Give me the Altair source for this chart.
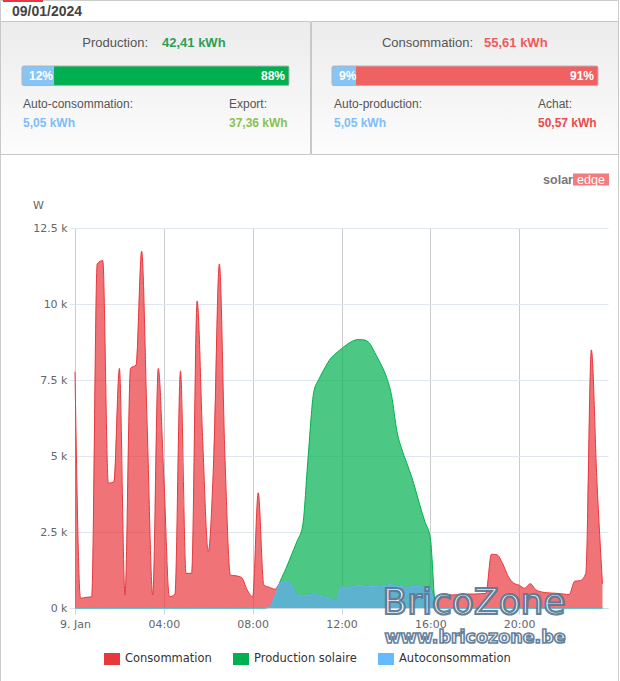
import altair as alt
import pandas as pd

# ---------------- data ----------------
day_label = "09/01/2024"
date_axis_label = "9. Jan"

production_kwh = 42.41
consumption_kwh = 55.61
self_consumption_kwh = 5.05
export_kwh = 37.36
self_production_kwh = 5.05
purchase_kwh = 50.57

production_split_pct = [12, 88]   # auto-consommation / export
consumption_split_pct = [9, 91]   # auto-production / achat

series_names = ["Consommation", "Production solaire", "Autoconsommation"]
series_colors = ["#e8383d", "#00b050", "#66bbff"]

# one value every 15 minutes, 00:00 .. 23:45 (hours)
quarter_hours = [q / 4 for q in range(96)]

consumption_w = [
    7770, 320, 350, 370,
    11320, 11430, 4110, 4140,
    7880, 430, 7890, 7990,
    11740, 6000, 430, 7880,
    4300, 370, 460, 7800,
    1140, 1140, 10100, 5500,
    1860, 5000, 11320, 5000,
    1080, 1060, 1000, 600,
    370, 3790, 760, 680,
    620, 830, 870, 750,
    440, 400, 410, 480,
    390, 360, 320, 250,
    700, 680, 700, 740,
    730, 710, 700, 720,
    750, 770, 720, 700,
    680, 720, 700, 680,
    650, 250, 400, 430,
    430, 440, 450, 460,
    460, 470, 480, 1770,
    1750, 1470, 1050, 820,
    750, 650, 800, 600,
    530, 500, 490, 480,
    460, 440, 880, 900,
    1140, 8490, 4200, 800,
]

production_w = [
    0, 0, 0, 0,
    0, 0, 0, 0,
    0, 0, 0, 0,
    0, 0, 0, 0,
    0, 0, 0, 0,
    0, 0, 0, 0,
    0, 0, 0, 0,
    0, 0, 0, 0,
    0, 0, 0, 30,
    400, 900, 1300, 1750,
    2200, 2700, 5000, 7100,
    7550, 7900, 8200, 8380,
    8530, 8670, 8780, 8830,
    8820, 8720, 8400, 8050,
    7650, 7000, 5800, 5150,
    4650, 4100, 3450, 2850,
    2300, 0, 0, 0,
    0, 0, 0, 0,
    0, 0, 0, 0,
    0, 0, 0, 0,
    0, 0, 0, 0,
    0, 0, 0, 0,
    0, 0, 0, 0,
    0, 0, 0, 0,
]

self_consumption_w = [
    0, 0, 0, 0,
    0, 0, 0, 0,
    0, 0, 0, 0,
    0, 0, 0, 0,
    0, 0, 0, 0,
    0, 0, 0, 0,
    0, 0, 0, 0,
    0, 0, 0, 0,
    0, 0, 0, 30,
    400, 830, 870, 750,
    440, 400, 410, 480,
    390, 360, 320, 250,
    700, 680, 700, 740,
    730, 710, 700, 720,
    750, 770, 720, 700,
    680, 720, 700, 680,
    650, 0, 0, 0,
    0, 0, 0, 0,
    0, 0, 0, 0,
    0, 0, 0, 0,
    0, 0, 0, 0,
    0, 0, 0, 0,
    0, 0, 0, 0,
    0, 0, 0, 0,
]

x_tick_hours = [0, 4, 8, 12, 16, 20]
y_ticks_w = [0, 2500, 5000, 7500, 10000, 12500]

# ---------------- layout helpers ----------------
X0, Y0 = 75, 228          # plot-area origin in page pixels
PW, PH = 533, 380         # plot-area size
one = pd.DataFrame({"k": [0]})


def kwh(v):
    return f"{v:.2f}".replace(".", ",") + " kWh"


def T(s, x, y, size=12, color="#555555", weight="normal", align="left",
      font="Liberation Sans", baseline="middle", **kw):
    return alt.Chart(one).mark_text(
        text=s, fontSize=size, color=color, fontWeight=weight, align=align,
        baseline=baseline, font=font, **kw
    ).encode(x=alt.value(x - X0), y=alt.value(y - Y0))


def R(x1, y1, x2, y2, **kw):
    return alt.Chart(one).mark_rect(**kw).encode(
        x=alt.value(x1 - X0), x2=alt.value(x2 - X0),
        y=alt.value(y1 - Y0), y2=alt.value(y2 - Y0))


# ---------------- decorations (header) ----------------
grad = alt.LinearGradient(
    gradient="linear", x1=0, x2=0, y1=0, y2=1,
    stops=[alt.GradientStop(color="#ececec", offset=0),
           alt.GradientStop(color="#fcfcfc", offset=1)])

decor = [
    R(0.5, 0.5, 618.5, 700, fillOpacity=0, stroke="#cccccc", strokeWidth=1),
    R(0.5, 21.5, 310.5, 154.5, fill=grad, stroke="#c8c8c8", strokeWidth=1),
    R(311.5, 21.5, 618.5, 154.5, fill=grad, stroke="#c8c8c8", strokeWidth=1),
    R(3, 0, 43, 2, fill="#e8383d"),
    T(day_label, 12, 11.5, size=14, color="#444444", weight="bold"),
    T("Production:", 148, 42.5, size=13, align="right"),
    T(kwh(production_kwh), 162, 42.5, size=13, color="#2f9e55", weight="bold"),
    T("Consommation:", 473, 42.5, size=13, align="right"),
    T(kwh(consumption_kwh), 484, 42.5, size=13, color="#f05a5a", weight="bold"),
    T("Auto-consommation:", 23, 104),
    T(kwh(self_consumption_kwh), 23, 122.5, color="#80bdf6", weight="bold"),
    T("Export:", 229, 104),
    T(kwh(export_kwh), 229, 122.5, color="#8cc152", weight="bold"),
    T("Auto-production:", 334, 104),
    T(kwh(self_production_kwh), 334, 122.5, color="#80bdf6", weight="bold"),
    T("Achat:", 538, 104),
    T(kwh(purchase_kwh), 538, 122.5, color="#e84c4c", weight="bold"),
    # solaredge logo
    R(573, 173.5, 609, 185.5, fill="#f37b7b"),
    T("solar", 573, 179.5, size=12.5, color="#777777", weight="bold", align="right"),
    T("edge", 591, 179.5, size=12.5, color="#ffffff", align="center"),
]


def progress(split, x_left, x_right, main_color):
    ends = [split[0], split[0] + split[1]]
    starts = [0, split[0]]
    d = pd.DataFrame({"part": ["self", "main"], "pct": split,
                      "start": starts, "end": ends,
                      "label": [f"{p}%" for p in split]})
    sc = alt.Scale(domain=[0, 100], range=[x_left - X0, x_right - X0])
    yv, y2v = alt.value(66 - Y0), alt.value(85.5 - Y0)
    segs = alt.Chart(d).mark_rect().encode(
        x=alt.X("start:Q", scale=sc, axis=None), x2="end:Q", y=yv, y2=y2v,
        color=alt.condition(alt.datum.part == "self", alt.value("#86c5f5"),
                            alt.value(main_color)))
    lab_self = alt.Chart(d).transform_filter(alt.datum.part == "self").mark_text(
        align="left", dx=7, baseline="middle", font="Liberation Sans",
        fontSize=12, fontWeight="bold", color="white").encode(
        x=alt.X("start:Q", axis=None), y=alt.value(76 - Y0), text="label:N")
    lab_main = alt.Chart(d).transform_filter(alt.datum.part == "main").mark_text(
        align="right", dx=-4, baseline="middle", font="Liberation Sans",
        fontSize=12, fontWeight="bold", color="white").encode(
        x=alt.X("end:Q", axis=None), y=alt.value(76 - Y0), text="label:N")
    frame = alt.Chart(d).transform_aggregate(s="min(start)", e="max(end)").mark_rect(
        fillOpacity=0, stroke="#b4b4b4", strokeWidth=1, cornerRadius=2).encode(
        x=alt.X("s:Q", axis=None), x2="e:Q", y=yv, y2=y2v)
    return alt.layer(segs, lab_self, lab_main, frame)


bar_left = progress(production_split_pct, 22, 289, "#00b050")
bar_right = progress(consumption_split_pct, 332, 598, "#f06161")

# ---------------- main chart ----------------
df = pd.DataFrame({
    "h": quarter_hours * 3,
    "W": consumption_w + production_w + self_consumption_w,
    "series": ([series_names[0]] * 96 + [series_names[1]] * 96
               + [series_names[2]] * 96),
})

x_enc = alt.X(
    "h:Q", scale=alt.Scale(domain=[0, 24], nice=False, zero=False),
    axis=alt.Axis(
        orient="bottom", values=x_tick_hours, title=None,
        labelExpr=("datum.value == 0 ? '" + date_axis_label + "' : "
                   "(datum.value < 10 ? '0' : '') + datum.value + ':00'"),
        grid=True, gridColor="#cccccc", domainColor="#ccd6eb",
        tickColor="#ccd6eb", tickSize=6, labelPadding=4,
        labelFont="DejaVu Sans", labelFontSize=11, labelColor="#666666",
        labelFlush=False))

y_enc = alt.Y(
    "W:Q", stack=None, scale=alt.Scale(domain=[0, 12500], nice=False),
    axis=alt.Axis(
        orient="left", values=y_ticks_w,
        labelExpr="(datum.value / 1000) + ' k'",
        title="W", titleAngle=0, titleX=-37, titleY=-23, titleAlign="center",
        titleBaseline="middle", titleFont="DejaVu Sans", titleFontSize=11,
        titleFontWeight="normal", titleColor="#666666",
        domain=False, grid=True, gridColor="#dfe6ef", tickColor="#dfe6ef",
        tickSize=6, labelPadding=2, labelFont="DejaVu Sans",
        labelFontSize=11, labelColor="#666666"))

c_enc = alt.Color(
    "series:N", scale=alt.Scale(domain=series_names, range=series_colors),
    legend=alt.Legend(
        orient="none", legendX=29, legendY=423, direction="horizontal",
        title=None, symbolType="M-1,-0.75H1V0.75H-1Z", symbolSize=256,
        symbolStrokeWidth=0, symbolOpacity=1, labelFont="DejaVu Sans",
        labelFontSize=11.5, labelColor="#333333", labelOffset=5,
        columnPadding=21, padding=0, labelLimit=300))


def area(name):
    return alt.Chart(df).transform_filter(alt.datum.series == name).mark_area(
        interpolate="monotone", fillOpacity=0.7,
        line=alt.OverlayMarkDef(strokeWidth=1)).encode(
        x=x_enc, y=y_enc, color=c_enc)


areas = alt.layer(*[area(n) for n in series_names])

watermark = [
    T("BricoZone", 474, 614, size=36, color="#ffffff", align="center",
      font="DejaVu Sans", baseline="alphabetic", stroke="#5d7c98",
      strokeWidth=2.2, opacity=0.95),
    T("www.bricozone.be", 475, 643, size=17.5, color="#ffffff", align="center",
      font="DejaVu Sans", weight="bold", baseline="alphabetic",
      stroke="#5d7c98", strokeWidth=1.6, opacity=0.95),
]

chart = alt.layer(*decor, areas, bar_left, bar_right, *watermark).resolve_scale(
    x="independent"
).properties(
    width=PW, height=PH,
    padding={"left": X0, "top": Y0, "right": 620 - X0 - PW,
             "bottom": 681 - Y0 - PH},
    autosize=alt.AutoSizeParams(type="none"),
    background="white",
).configure_view(stroke=None)

chart.save("out.html", embed_options={"renderer": "svg", "actions": False})
